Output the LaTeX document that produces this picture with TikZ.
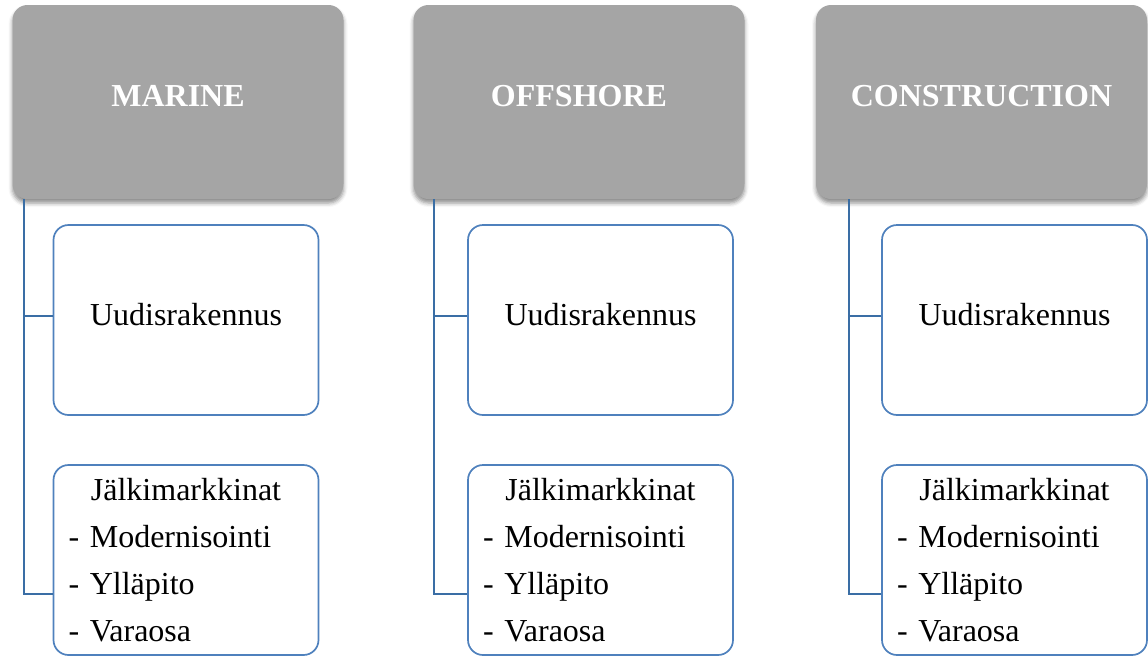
\documentclass[tikz,border=0pt]{standalone}
\usepackage{fontspec}
\setmainfont{Liberation Serif}
\usetikzlibrary{shadows.blur}
\definecolor{headgray}{HTML}{A5A5A5}
\definecolor{boxblue}{HTML}{4F81BD}
\definecolor{lineblue}{HTML}{3A6EA5}

\begin{document}
\begin{tikzpicture}[x=1pt, y=-1pt,
    header/.style={rectangle, rounded corners=15pt, fill=headgray, text=white, font=\fontsize{32}{38}\selectfont\bfseries, text depth=12pt, minimum width=331pt, minimum height=194pt, blur shadow={shadow xshift=0pt, shadow yshift=-4pt, shadow blur radius=4pt, shadow opacity=45}},
    item/.style={draw=boxblue, line width=1.7pt, rounded corners=15pt, fill=white, font=\fontsize{32}{47}\selectfont, minimum width=265pt, minimum height=190pt, inner sep=0pt},
    link/.style={draw=lineblue, line width=2pt}]
    \useasboundingbox (0,0) rectangle (1148,656);

    \node[header] (marine) at (178,102) {MARINE};
    \node[header] (offshore) at (579,102) {OFFSHORE};
    \node[header] (construction) at (981.5,102) {CONSTRUCTION};

    \node[item, text depth=12pt] (m1) at (186,320) {Uudisrakennus};
    \node[item, text width=235pt, align=left] (m2) at (186,560) {\makebox[235pt]{Jälkimarkkinat}\\- Modernisointi\\- Ylläpito\\- Varaosa};
    \node[item, text depth=12pt] (o1) at (600.5,320) {Uudisrakennus};
    \node[item, text width=235pt, align=left] (o2) at (600.5,560) {\makebox[235pt]{Jälkimarkkinat}\\- Modernisointi\\- Ylläpito\\- Varaosa};
    \node[item, text depth=12pt] (c1) at (1014.5,320) {Uudisrakennus};
    \node[item, text width=235pt, align=left] (c2) at (1014.5,560) {\makebox[235pt]{Jälkimarkkinat}\\- Modernisointi\\- Ylläpito\\- Varaosa};

    \draw[link] ([xshift=12pt]marine.south west) |- ([yshift=4pt]m1.west);
    \draw[link] ([xshift=12pt]marine.south west) |- ([yshift=-34pt]m2.west);
    \draw[link] ([xshift=21pt]offshore.south west) |- ([yshift=4pt]o1.west);
    \draw[link] ([xshift=21pt]offshore.south west) |- ([yshift=-34pt]o2.west);
    \draw[link] ([xshift=33pt]construction.south west) |- ([yshift=4pt]c1.west);
    \draw[link] ([xshift=33pt]construction.south west) |- ([yshift=-34pt]c2.west);

\end{tikzpicture}
\end{document}
